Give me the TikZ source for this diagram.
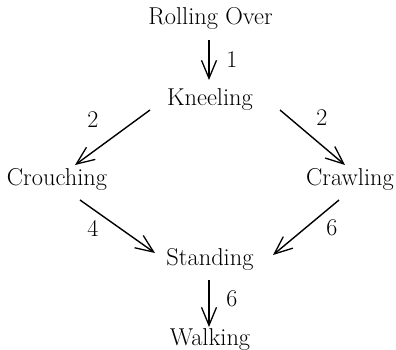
\documentclass[tikz,border=0pt]{standalone}
\usetikzlibrary{arrows.meta}
\begin{document}
\begin{tikzpicture}[x=1pt,y=1pt,
  state/.style={anchor=base,inner sep=0pt,font=\fontsize{24.4}{29}\selectfont},
  lbl/.style={inner sep=0pt,font=\fontsize{24}{29}\selectfont},
  arr/.style={line width=1.4pt,-{Straight Barb[length=18pt,width=15pt,line width=1.3pt]}}]
\useasboundingbox (0,0) rectangle (396,349);
\node[state] (ro) at (210.5,324) {Rolling Over};
\node[state] (kn) at (210,244) {Kneeling};
\node[state] (cr) at (57,164) {Crouching};
\node[state] (cw) at (350,164) {Crawling};
\node[state] (st) at (210,84) {Standing};
\node[state] (wk) at (210,4) {Walking};
\draw[arr] ([shift={(-1.5,-15)}]ro.base) -- ([shift={(-1,25)}]kn.base);
\draw[arr] ([shift={(-60,-5)}]kn.base) -- ([shift={(18,20)}]cr.base);
\draw[arr] ([shift={(70,-5)}]kn.base) -- ([shift={(-5,20)}]cw.base);
\draw[arr] ([shift={(23,-15)}]cr.base) -- ([shift={(-55,12)}]st.base);
\draw[arr] ([shift={(-11,-15)}]cw.base) -- ([shift={(63,10)}]st.base);
\draw[arr] ([shift={(-1,-15)}]st.base) -- ([shift={(-1,18)}]wk.base);
\node[lbl] (l1) at (232,289) {1};
\node[lbl] (l2) at (93,229) {2};
\node[lbl] (l3) at (322,231) {2};
\node[lbl] (l4) at (93,121) {4};
\node[lbl] (l5) at (332,121) {6};
\node[lbl] (l6) at (232,50) {6};
\end{tikzpicture}
\end{document}
